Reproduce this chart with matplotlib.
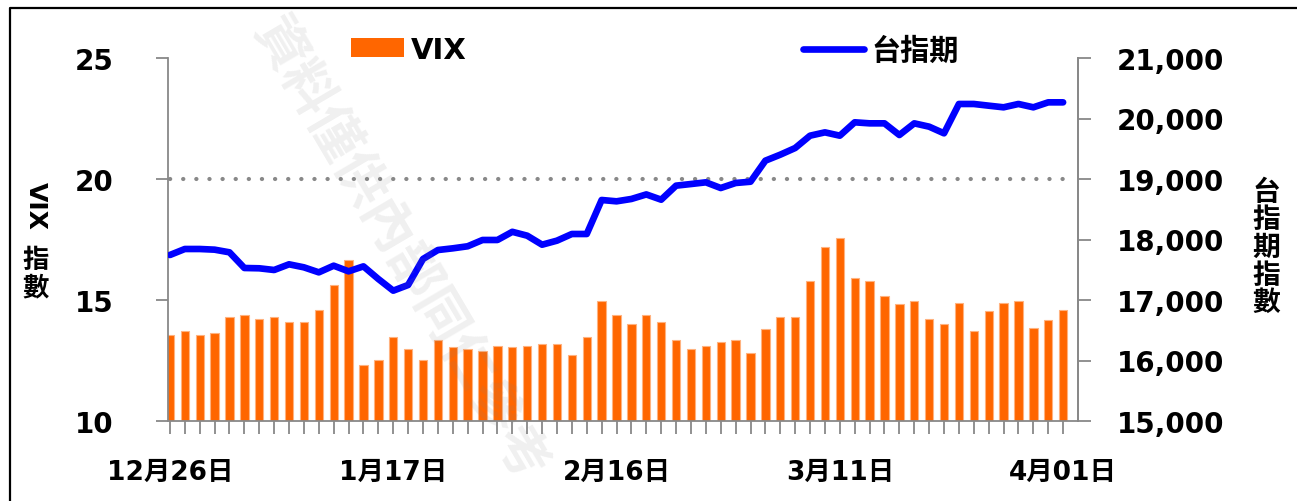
import matplotlib
matplotlib.use('Agg')
import matplotlib.pyplot as plt
from matplotlib.lines import Line2D
from matplotlib.patches import Patch
from matplotlib.ticker import FuncFormatter

plt.rcParams['font.family'] = ['DejaVu Sans', 'Noto Sans CJK TC']
plt.rcParams['font.weight'] = 'bold'

# ---- data ----
vix = [13.55, 13.71, 13.55, 13.64, 14.30, 14.38, 14.23, 14.30, 14.08, 14.08,
       14.60, 15.63, 16.67, 12.30, 12.52, 13.48, 12.98, 12.52, 13.35, 13.04,
       12.98, 12.89, 13.11, 13.04, 13.11, 13.19, 13.19, 12.74, 13.48, 14.97,
       14.37, 14.01, 14.37, 14.08, 13.35, 12.98, 13.11, 13.26, 13.35, 12.82,
       13.79, 14.30, 14.30, 15.77, 17.18, 17.55, 15.92, 15.77, 15.18, 14.82,
       14.97, 14.23, 14.00, 14.89, 13.71, 14.53, 14.89, 14.97, 13.86, 14.16,
       14.60]
taiex = [17744, 17843, 17843, 17832, 17788, 17529, 17524, 17496, 17590, 17540,
         17457, 17567, 17474, 17556, 17347, 17154, 17248, 17678, 17826, 17854,
         17888, 17992, 17992, 18127, 18063, 17914, 17981, 18091, 18091, 18653,
         18631, 18670, 18745, 18658, 18890, 18917, 18945, 18851, 18934, 18955,
         19303, 19402, 19512, 19716, 19771, 19716, 19937, 19920, 19920, 19727,
         19920, 19865, 19755, 20240, 20240, 20212, 20185, 20240, 20185, 20267,
         20267]
date_labels = ['12月26日', '1月17日', '2月16日', '3月11日', '4月01日']
label_pos = [0, 15, 30, 45, 60]
vix_ref = 20

W, H = 1297, 502
fig = plt.figure(figsize=(W / 100, H / 100), dpi=100)
fig.patch.set_facecolor('white')

ax = fig.add_axes([168 / W, 1 - 422 / H, 910 / W, 363 / H])
ax2 = ax.twinx()

x = list(range(len(vix)))
ax.bar(x, vix, width=0.56, color='#FF6600', edgecolor='#FFB27F', linewidth=0.8,
       zorder=2)
ax.plot([0, len(vix) - 1], [vix_ref, vix_ref], color='#888888', lw=3.0,
        linestyle=(0, (0.05, 3.1)), dash_capstyle='round', zorder=3)

ax2.plot(x, taiex, color='#0000FF', lw=4.8, solid_joinstyle='round',
         solid_capstyle='round', zorder=4)

gray = '#888888'
ax.set_xlim(-0.13, 61.0)
ax.set_ylim(10, 25)
ax.set_yticks([10, 15, 20, 25])
ax2.set_ylim(15000, 21000)
ax2.set_yticks(range(15000, 21001, 1000))
ax2.yaxis.set_major_formatter(FuncFormatter(lambda v, p: f'{int(v):,}'))

ax.set_xticks(x)
ax.set_xticklabels([date_labels[label_pos.index(i)] if i in label_pos else ''
                    for i in x])

for a in (ax, ax2):
    a.spines['top'].set_visible(False)
    for s in a.spines.values():
        s.set_color(gray)
        s.set_linewidth(1.3)
ax2.spines['left'].set_visible(False)
ax2.spines['bottom'].set_visible(False)

ax.tick_params(axis='x', direction='out', length=9, width=1.3, color=gray,
               labelsize=19, pad=18)
ax.tick_params(axis='y', direction='out', length=9, width=1.3, color=gray,
               labelsize=20, pad=30)
ax2.tick_params(axis='y', direction='out', length=9, width=1.3, color=gray,
                labelsize=20, pad=19)

cjk = ['Noto Sans CJK TC', 'DejaVu Sans']
# axis titles
fig.text(36 / W, 1 - 206 / H, 'VIX', rotation=-90, ha='center', va='center',
         fontsize=18)
fig.text(36 / W, 1 - 274 / H, '指\n數', ha='center', va='center', fontsize=19,
         linespacing=1.0, family=cjk)
fig.text(1266 / W, 1 - 248 / H, '台\n指\n期\n指\n數', ha='center', va='center',
         fontsize=20, linespacing=0.98, family=cjk)

# legends
leg1 = fig.legend(handles=[Patch(facecolor='#FF6600', edgecolor='none')],
                  labels=['VIX'], loc='center left',
                  bbox_to_anchor=(351 / W, 1 - 51 / H), frameon=False,
                  handlelength=1.8, handleheight=0.6,
                  handletextpad=0.25, borderpad=0, borderaxespad=0,
                  prop={'size': 21, 'weight': 'bold'})
leg2 = fig.legend(handles=[Line2D([0], [0], color='#0000FF', lw=4.8,
                                  solid_capstyle='round')],
                  labels=['台指期'], loc='center left',
                  bbox_to_anchor=(803 / W, 1 - 51 / H), frameon=False,
                  handlelength=2.1, handletextpad=0.25,
                  borderpad=0, borderaxespad=0,
                  prop={'family': cjk, 'size': 21, 'weight': 'bold'})

# watermark
fig.text(400 / W, 1 - 250 / H, '資料僅供內部同仁參考', rotation=-59.5,
         ha='center', va='center', fontsize=38, color='#808080', alpha=0.12,
         family=cjk, zorder=10)

# outer frame (left and top edges visible)
fig.add_artist(Line2D([10 / W, 10 / W, 1.0], [0.0, 1 - 9 / H, 1 - 9 / H],
                      color='black', lw=1.6, transform=fig.transFigure))

fig.savefig('out.png', dpi=100, facecolor='white')
